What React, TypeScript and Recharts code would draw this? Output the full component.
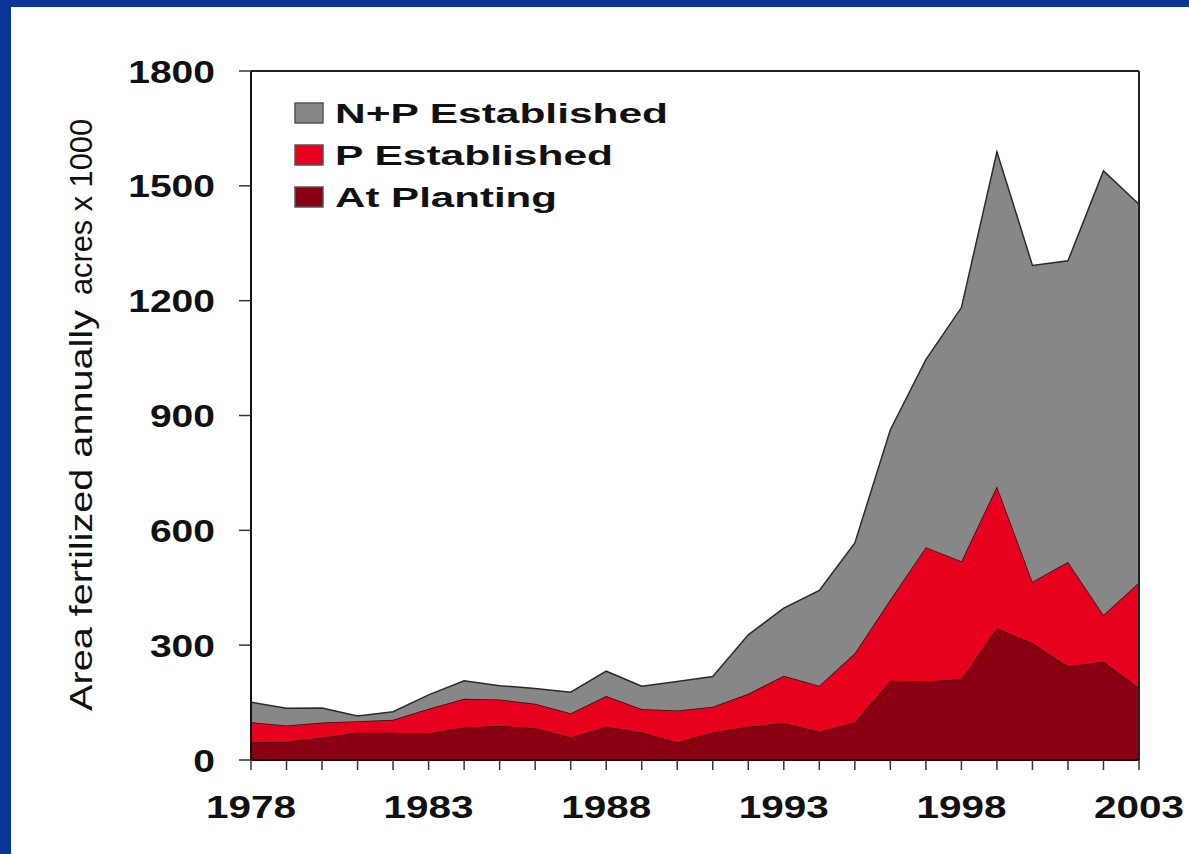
import { AreaChart, Area, XAxis, YAxis, Legend, ReferenceLine, Label } from 'recharts';

const years = [
  1978, 1979, 1980, 1981, 1982, 1983, 1984, 1985, 1986, 1987, 1988, 1989, 1990,
  1991, 1992, 1993, 1994, 1995, 1996, 1997, 1998, 1999, 2000, 2001, 2002, 2003,
];
// acres x 1000, per layer (stacked)
const atPlanting = [
  46, 48, 58, 71, 71, 69, 85, 89, 83, 59, 87, 72, 46,
  72, 87, 96, 74, 98, 207, 205, 211, 344, 305, 244, 257, 188,
];
const pEstablished = [
  53, 42, 40, 30, 34, 65, 75, 69, 64, 63, 80, 61, 83,
  67, 86, 124, 120, 181, 212, 351, 308, 371, 161, 273, 122, 276,
];
const npEstablished = [
  52, 45, 38, 14, 21, 36, 47, 36, 40, 55, 65, 60, 76,
  79, 154, 177, 249, 288, 444, 490, 663, 874, 826, 787, 1160, 988,
];
const yTicks = [0, 300, 600, 900, 1200, 1500, 1800];

const series = [
  { key: 'np', name: 'N+P Established', color: '#878787', len: 333 },
  { key: 'p', name: 'P Established', color: '#e8001f', len: 278 },
  { key: 'plant', name: 'At Planting', color: '#8a0012', len: 222 },
];

const data = years.map((year, i) => ({
  year,
  plant: atPlanting[i],
  p: pEstablished[i],
  np: npEstablished[i],
}));

const FONT = 'Arial, "Liberation Sans", Helvetica, sans-serif';

function XTick(props: any) {
  const { x, y, payload } = props;
  if ((payload.value - 1978) % 5 !== 0) return null;
  return (
    <text x={x} y={y + 46} textAnchor="middle" fontFamily={FONT} fontWeight="bold"
      fontSize={32} fill="#111" textLength={90} lengthAdjust="spacingAndGlyphs">
      {payload.value}
    </text>
  );
}

function YTick(props: any) {
  const { x, y, payload } = props;
  const s = String(payload.value);
  const w = s.length * 21.7;
  return (
    <text x={x - 22 - w} y={y + 11.5} textAnchor="start" fontFamily={FONT} fontWeight="bold"
      fontSize={32} fill="#111" textLength={w} lengthAdjust="spacingAndGlyphs">
      {s}
    </text>
  );
}

function YLabel() {
  return (
    <g fontFamily={FONT} fontSize={31} fill="#111">
      <text transform="translate(92, 711) rotate(-90)" textLength={401} lengthAdjust="spacingAndGlyphs">
        Area fertilized annually
      </text>
      <text transform="translate(92, 295) rotate(-90)" textLength={176} lengthAdjust="spacingAndGlyphs">
        acres x 1000
      </text>
    </g>
  );
}

function LegendBox() {
  return (
    <svg width={400} height={135}>
      {series.map((s, i) => {
        const top = 18 + i * 42;
        return (
          <g key={s.key}>
            <rect x={15} y={top} width={28} height={20} fill={s.color} stroke="#555" strokeWidth={1.5} />
            <text x={55} y={top + 20} fontFamily={FONT} fontWeight="bold" fontSize={27}
              fill="#111" textLength={s.len} lengthAdjust="spacingAndGlyphs">
              {s.name}
            </text>
          </g>
        );
      })}
    </svg>
  );
}

export default function App() {
  return (
    <div style={{ position: 'absolute', left: 0, top: 0, width: 1189, height: 854, background: '#fff', overflow: 'hidden' }}>
      <div style={{ position: 'absolute', left: 0, top: 0, width: 1189, height: 7, background: '#0b3497' }} />
      <div style={{ position: 'absolute', left: 0, top: 0, width: 11, height: 854, background: '#0b3497' }} />
      <div style={{ position: 'absolute', left: 0, top: 0 }}>
        <AreaChart width={1189} height={854} data={data}
          margin={{ top: 71, right: 50, bottom: 0, left: 0 }}>
          <XAxis dataKey="year" type="number" domain={[1978, 2003]} ticks={years} interval={0}
            height={94} tick={<XTick />} tickSize={10} stroke="#111" strokeWidth={2}
            tickLine={{ stroke: '#333', strokeWidth: 1.5 }} />
          <YAxis width={251} domain={[0, 1800]} ticks={yTicks} interval={0} tick={<YTick />}
            tickSize={12} stroke="#111" strokeWidth={2}
            tickLine={{ stroke: '#333', strokeWidth: 1.5 }}>
            <Label content={<YLabel />} />
          </YAxis>
          <Area type="linear" dataKey="plant" name="At Planting" stackId="a"
            fill="#8a0012" fillOpacity={1} stroke="#2b1010" strokeWidth={1.5} isAnimationActive={false} />
          <Area type="linear" dataKey="p" name="P Established" stackId="a"
            fill="#e8001f" fillOpacity={1} stroke="#2b1010" strokeWidth={1.5} isAnimationActive={false} />
          <Area type="linear" dataKey="np" name="N+P Established" stackId="a"
            fill="#878787" fillOpacity={1} stroke="#2b2b2b" strokeWidth={1.5} isAnimationActive={false} />
          <ReferenceLine y={1800} stroke="#222" strokeWidth={2} />
          <ReferenceLine x={2003} stroke="#222" strokeWidth={2} />
          <Legend layout="vertical" align="center" verticalAlign="middle" content={<LegendBox />}
            wrapperStyle={{ left: 280, top: 85, width: 400, height: 135 }} />
        </AreaChart>
      </div>
    </div>
  );
}
